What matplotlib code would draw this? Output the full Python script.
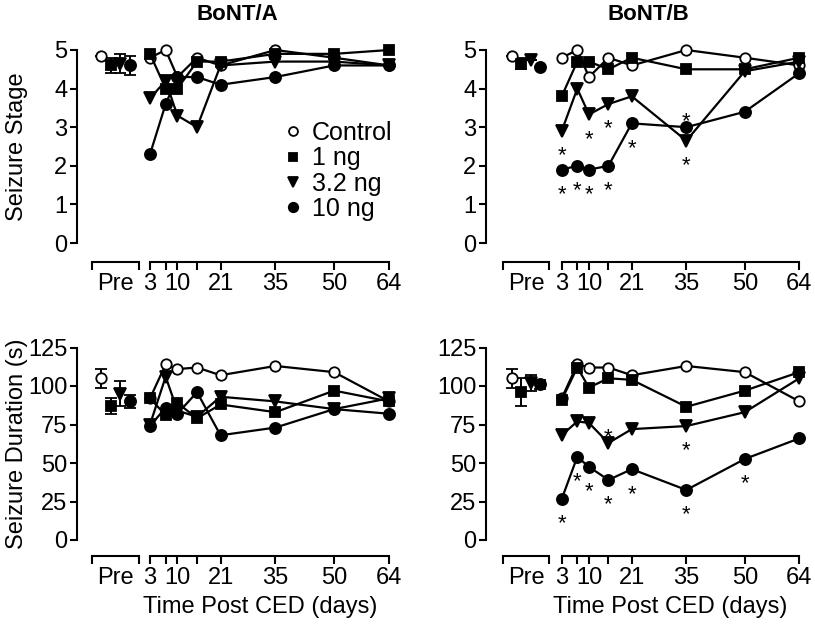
import matplotlib.pyplot as plt

plt.rcParams['font.family'] = ['Liberation Sans', 'DejaVu Sans']
plt.rcParams['font.size'] = 17

# days after CED, tick labels
days = [3, 7, 10, 15, 21, 35, 50, 64]
day_labels = ['3', '', '10', '', '21', '35', '50', '64']
groups = ['Control', '1 ng', '3.2 ng', '10 ng']

# BoNT/A seizure stage (rows = groups)
stage_a = [[4.8, 5.0, 4.3, 4.8, 4.6, 5.0, 4.8, 4.6],
           [4.9, 4.0, 4.0, 4.7, 4.7, 4.9, 4.9, 5.0],
           [3.75, 4.2, 3.3, 3.0, 4.6, 4.7, 4.7, 4.6],
           [2.3, 3.6, 4.3, 4.3, 4.1, 4.3, 4.6, 4.6]]
stage_a_pre = [4.85, 4.6, 4.65, 4.6]
stage_a_err = [0.0, 0.2, 0.25, 0.25]

# BoNT/B seizure stage
stage_b = [[4.8, 5.0, 4.3, 4.8, 4.6, 5.0, 4.8, 4.6],
           [3.8, 4.7, 4.7, 4.5, 4.8, 4.5, 4.5, 4.8],
           [2.9, 4.0, 3.33, 3.6, 3.8, 2.65, 4.45, 4.7],
           [1.9, 2.0, 1.9, 2.0, 3.1, 3.0, 3.4, 4.4]]
stage_b_pre = [4.85, 4.65, 4.75, 4.55]
stage_b_err = [0.0, 0.15, 0.0, 0.0]
# significance marks: (group, day, side)
stage_b_stars = [(2, 3, 'below'), (2, 10, 'below'), (2, 15, 'below'), (2, 35, 'below'),
                 (3, 3, 'below'), (3, 7, 'below'), (3, 10, 'below'), (3, 15, 'below'),
                 (3, 21, 'below'), (3, 35, 'above')]

# BoNT/A seizure duration (s)
dur_a = [[92, 114, 111, 112, 107, 113, 109, 90],
         [92, 81, 89, 79, 88, 83, 97, 90],
         [75, 106, 84, 80, 93, 90, 85, 92],
         [74, 86, 82, 96, 68, 73, 85, 82]]
dur_a_pre = [105, 87, 95, 90]
dur_a_err = [6, 5, 8, 4]

# BoNT/B seizure duration (s)
dur_b = [[92, 114, 112, 112, 107, 113, 109, 90],
         [91, 112, 99, 105, 104, 86.5, 97, 109],
         [68, 77, 76, 63, 72, 74, 83, 105],
         [26.6, 54, 47.5, 39, 46, 32.5, 52.6, 66]]
dur_b_pre = [105, 96, 102, 101]
dur_b_err = [6, 9, 5, 3]
dur_b_stars = [(2, 15, 'above'), (2, 35, 'below'),
               (3, 3, 'below'), (3, 7, 'below'), (3, 10, 'below'), (3, 15, 'below'),
               (3, 21, 'below'), (3, 35, 'below'), (3, 50, 'below')]

markers = ['o', 's', 'v', 'o']
faces = ['white', 'k', 'k', 'k']
sizes = [7.5, 7, 8, 8]

W, H = 815, 626
fig = plt.figure(figsize=(W / 100, H / 100), dpi=100)

# pixel layout of the two columns and two rows
cols = [dict(L=77, pre0=24, dx=9.7, seg=(15, 62), m0=143, R=395, d3=150, d64=389),
        dict(L=486, pre0=26, dx=9.4, seg=(17, 63), m0=552, R=805, d3=561.7, d64=799.3)]
rows = [dict(top=50, bot=243, out=13.7), dict(top=347.5, bot=540, out=11.5)]


def panel(col, row, data, pre, err, ylim, yticks, ylabel, stars):
    c, r = cols[col], rows[row]
    h = (r['bot'] - r['top']) / H
    y0 = 1 - r['bot'] / H
    ax_pre = fig.add_axes([c['L'] / W, y0, (c['m0'] - c['L']) / W, h])
    ax = fig.add_axes([c['m0'] / W, y0, (c['R'] - c['m0']) / W, h])

    scale = (c['d64'] - c['d3']) / 61
    ax.set_xlim(3 + (c['m0'] - c['d3']) / scale, 3 + (c['R'] - c['d3']) / scale)
    ax_pre.set_xlim(0, c['m0'] - c['L'])
    for a in (ax, ax_pre):
        a.set_ylim(*ylim)
        a.patch.set_visible(False)
        a.spines[['top', 'right']].set_visible(False)
        a.spines['bottom'].set_position(('outward', r['out']))
        a.spines['bottom'].set_linewidth(1.5)
        a.spines['left'].set_linewidth(1.5)
        a.tick_params(width=1.5, length=5, pad=2, labelsize=17)
    ax.spines['left'].set_visible(False)
    ax.tick_params(axis='y', left=False, labelleft=False)
    ax.spines['bottom'].set_bounds(3, 64)
    ax.set_xticks(days, day_labels)
    ax.tick_params(axis='x', length=6)

    s0, s1 = c['seg']
    ax_pre.spines['bottom'].set_bounds(s0, s1)
    ax_pre.set_xticks([s0, (s0 + s1) / 2, s1], ['', 'Pre', ''])
    ax_pre.xaxis.get_major_ticks()[1].tick1line.set_visible(False)
    ax_pre.tick_params(axis='x', length=6)
    ax_pre.set_yticks(yticks)

    for i in range(4):
        ax.plot(days, data[i], marker=markers[i], ms=sizes[i], mfc=faces[i], mec='k',
                mew=1.3, color='k', lw=1.6, clip_on=False, label=groups[i], zorder=3 + i)
        ax_pre.errorbar(c['pre0'] + i * c['dx'], pre[i], yerr=err[i], fmt=markers[i],
                        ms=sizes[i], mfc=faces[i], mec='k', mew=1.3, ecolor='k',
                        elinewidth=1.4, capsize=4, capthick=1.4, clip_on=False, zorder=3)

    for g, d, side in stars:
        v = data[g][days.index(d)]
        off = -22 if side == 'below' else 0
        ax.annotate('*', (d, v), xytext=(0, off), textcoords='offset points',
                    ha='center', va='baseline', fontsize=16)

    if ylabel:
        fig.text(17 / W, 1 - (r['top'] + r['bot']) / 2 / H, ylabel, rotation=90,
                 ha='center', va='center', fontsize=17)
    return ax


ax_a = panel(0, 0, stage_a, stage_a_pre, stage_a_err, (0, 5), range(6), 'Seizure Stage', [])
panel(1, 0, stage_b, stage_b_pre, stage_b_err, (0, 5), range(6), '', stage_b_stars)
panel(0, 1, dur_a, dur_a_pre, dur_a_err, (0, 125), range(0, 126, 25), 'Seizure Duration (s)', [])
panel(1, 1, dur_b, dur_b_pre, dur_b_err, (0, 125), range(0, 126, 25), '', dur_b_stars)

ax_a.legend(loc='upper left', bbox_to_anchor=(293 / W, 1 - 121 / H),
            bbox_transform=fig.transFigure, frameon=False, handlelength=0,
            handletextpad=0.75, labelspacing=0.05, borderpad=0, borderaxespad=0,
            fontsize=18, markerscale=0.85)

fig.text(237 / W, 1 - 14 / H, 'BoNT/A', ha='center', va='center', fontsize=16, fontweight='bold')
fig.text(648 / W, 1 - 14 / H, 'BoNT/B', ha='center', va='center', fontsize=16, fontweight='bold')
fig.text(260 / W, 1 - 607 / H, 'Time Post CED (days)', ha='center', va='center', fontsize=17)
fig.text(670 / W, 1 - 607 / H, 'Time Post CED (days)', ha='center', va='center', fontsize=17)

fig.savefig('out.png', dpi=100)
